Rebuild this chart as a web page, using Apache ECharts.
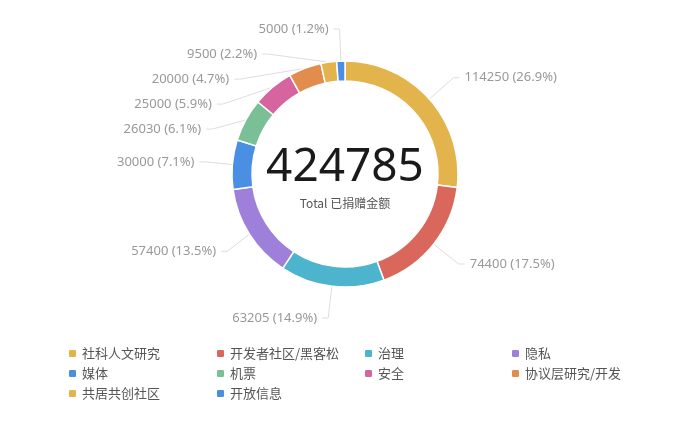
<!DOCTYPE html>
<html><head><meta charset="utf-8">
<script src="https://cdn.jsdelivr.net/npm/echarts@6/dist/echarts.min.js"></script>
<style>html,body{margin:0;padding:0;background:#fff}#c{width:680px;height:425px}</style>
</head><body><div id="c"></div>
<script>
const categories = ['社科人文研究','开发者社区/黑客松','治理','隐私','媒体','机票','安全','协议层研究/开发','共居共创社区','开放信息'];
const values = [114250,74400,63205,57400,30000,26030,25000,20000,9500,5000];
const colors = ['#e3b44c','#d9675b','#4db4cd','#9e80db','#4a8fe3','#7abf96','#d6659f','#e28c4e','#e3b44c','#4a8fe3'];
const totalLabel = 'Total 已捐赠金额';
const total = values.reduce((a,b)=>a+b,0);
const chart = echarts.init(document.getElementById('c'));
const colX = [67, 215, 363, 510];
const rowY = [347, 367, 387];
const legends = categories.map((name,i)=>({
  data:[name], left: colX[i%4], top: rowY[Math.floor(i/4)], padding:0,
  icon:'roundRect', itemWidth:9, itemHeight:9, itemGap:0,
  textStyle:{color:'#555', fontSize:13, fontFamily:'"Noto Sans CJK SC", sans-serif'},
  selectedMode:false
}));
chart.setOption({
  animation:false,
  color: colors,
  legend: legends,
  graphic:[
    {type:'text', x:345, y:167.5, style:{text:String(total), fill:'#1a1a1a', font:'400 46px "Noto Sans", sans-serif', textAlign:'center', textVerticalAlign:'middle'}},
    {type:'text', x:345, y:203, style:{text:totalLabel, fill:'#555', font:'12px "Noto Sans CJK SC", sans-serif', textAlign:'center', textVerticalAlign:'middle'}}
  ],
  series:[{
    type:'pie', center:[345,174], radius:[93,113], startAngle:90, clockwise:true,
    avoidLabelOverlap:true,
    itemStyle:{borderColor:'#fff', borderWidth:1.5},
    label:{formatter:p=>p.value+' ('+p.percent.toFixed(1)+'%)', color:'#999', fontSize:13, lineHeight:23, fontFamily:'"Noto Sans", sans-serif'},
    labelLine:{length:32, length2:6, lineStyle:{color:'#ddd', width:1}},
    data: categories.map((n,i)=>({name:n, value:values[i]}))
  }]
});
</script></body></html>
